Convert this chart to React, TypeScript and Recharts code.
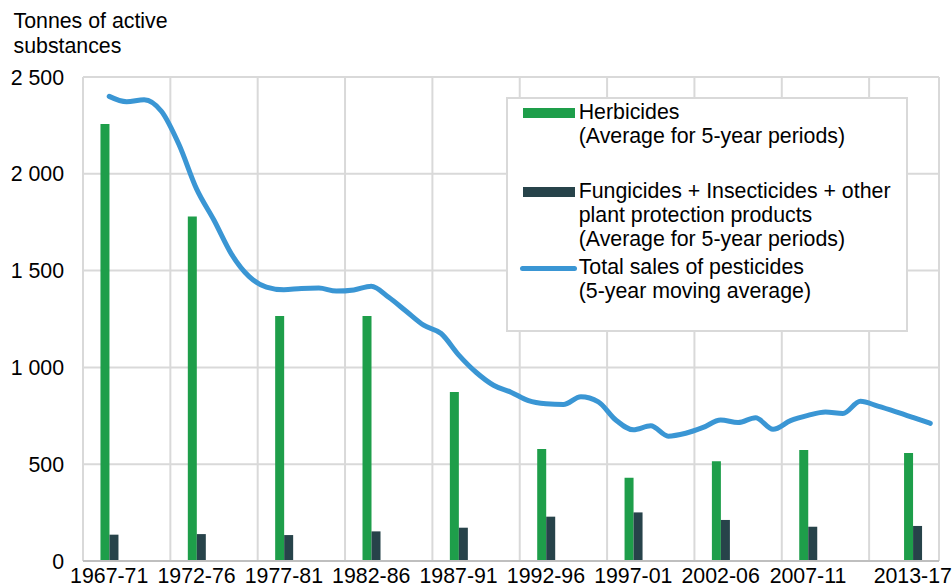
import React from 'react';
import {
  ComposedChart,
  Bar,
  Line,
  XAxis,
  YAxis,
  CartesianGrid,
  Legend,
} from 'recharts';

// Yearly categories of the x axis
const years = [
  1968, 1969, 1970, 1971, 1972, 1973, 1974, 1975, 1976, 1977,
  1978, 1979, 1980, 1981, 1982, 1983, 1984, 1985, 1986, 1987,
  1988, 1989, 1990, 1991, 1992, 1993, 1994, 1995, 1996, 1997,
  1998, 1999, 2000, 2001, 2002, 2003, 2004, 2005, 2006, 2007,
  2008, 2009, 2010, 2011, 2012, 2013, 2014, 2015, 2016,
];

// 5-year periods (bars are placed at the middle year of each period)
const periods = [
  '1967-71', '1972-76', '1977-81', '1982-86', '1987-91',
  '1992-96', '1997-01', '2002-06', '2007-11', '2013-17',
];
const periodMidYears = [1969, 1974, 1979, 1984, 1989, 1994, 1999, 2004, 2009, 2015];
const herbicides = [2257, 1780, 1265, 1265, 873, 578, 430, 515, 573, 558];
const otherProducts = [136, 139, 134, 153, 172, 229, 251, 212, 177, 181];

// Total sales, 5-year moving average
const lineYears = [
  1969, 1970, 1971, 1972, 1973, 1974, 1975, 1976, 1977, 1978,
  1979, 1980, 1981, 1982, 1983, 1984, 1985, 1986, 1987, 1988,
  1989, 1990, 1991, 1992, 1993, 1994, 1995, 1996, 1997, 1998,
  1999, 2000, 2001, 2002, 2003, 2004, 2005, 2006, 2007, 2008,
  2009, 2010, 2011, 2012, 2013, 2014, 2015, 2016,
];
const totalSales = [
  2400, 2372, 2383, 2322, 2150, 1922, 1760, 1585, 1470, 1415,
  1401, 1408, 1410, 1394, 1400, 1419, 1362, 1290, 1218, 1175,
  1065, 975, 908, 872, 828, 812, 808, 848, 822, 728,
  678, 698, 645, 660, 690, 728, 715, 740, 680, 725,
  752, 770, 762, 825, 800, 772, 742, 711,
];

const yTicks = [0, 500, 1000, 1500, 2000, 2500];
const yTickLabels = ['0', '500', '1 000', '1 500', '2 000', '2 500'];

// indices of category boundaries where vertical gridlines are drawn
const gridBoundaryIndices = [0, 5, 10, 15, 20, 25, 30, 35, 40, 45, 49];

const axisTitleLines = ['Tonnes of active', 'substances'];
const legendLabels: Record<string, string[]> = {
  herbicides: ['Herbicides', '(Average for 5-year periods)'],
  other: [
    'Fungicides + Insecticides + other',
    'plant protection products',
    '(Average for 5-year periods)',
  ],
  total: ['Total sales of pesticides', '(5-year moving average)'],
};

const GREEN = '#1e9e4a';
const DARK = '#27434a';
const BLUE = '#3a96d4';
const GRID = '#d9d9d9';
const FONT = '"Liberation Sans", Arial, Helvetica, sans-serif';
const FS = 21.33;

const data = years.map((y) => {
  const pi = periodMidYears.indexOf(y);
  const li = lineYears.indexOf(y);
  return {
    year: y,
    herbicides: pi >= 0 ? herbicides[pi] : null,
    other: pi >= 0 ? otherProducts[pi] : null,
    total: li >= 0 ? totalSales[li] : null,
  };
});

const renderLegend = (props: any) => {
  const payload: any[] = props.payload || [];
  const colorOf = (key: string, fallback: string) => {
    const p = payload.find((e) => e.dataKey === key);
    return (p && p.color) || fallback;
  };
  const textStyle: React.CSSProperties = {
    position: 'absolute',
    left: 71,
    fontSize: FS,
    lineHeight: '24px',
    color: '#000',
    whiteSpace: 'nowrap',
    fontFamily: FONT,
  };
  return (
    <div
      style={{
        position: 'relative',
        width: 402,
        height: 235,
        boxSizing: 'border-box',
        border: `2px solid ${GRID}`,
        background: '#fff',
      }}
    >
      <div style={{ position: 'absolute', left: 15, top: 9, width: 52, height: 10, background: colorOf('herbicides', GREEN) }} />
      <div style={{ ...textStyle, top: 1.2 }}>
        {legendLabels.herbicides.map((t) => (
          <div key={t}>{t}</div>
        ))}
      </div>
      <div style={{ position: 'absolute', left: 15, top: 87.5, width: 52, height: 10, background: colorOf('other', DARK) }} />
      <div style={{ ...textStyle, top: 79.5 }}>
        {legendLabels.other.map((t, i) => (
          <div key={i}>{t}</div>
        ))}
      </div>
      <div style={{ position: 'absolute', left: 12.5, top: 166.5, width: 57, height: 5, borderRadius: 3, background: colorOf('total', BLUE) }} />
      <div style={{ ...textStyle, top: 156.2 }}>
        {legendLabels.total.map((t) => (
          <div key={t}>{t}</div>
        ))}
      </div>
    </div>
  );
};

export default function App() {
  return (
    <div style={{ position: 'relative', width: 952, height: 587, fontFamily: FONT }}>
      <style>{'html, body { margin: 0; padding: 0; }'}</style>
      <div
        style={{
          position: 'absolute',
          left: 13.5,
          top: 9.3,
          fontSize: FS,
          lineHeight: '25px',
          color: '#000',
          whiteSpace: 'nowrap',
        }}
      >
        {axisTitleLines.map((t) => (
          <div key={t}>{t}</div>
        ))}
      </div>
      <ComposedChart
        width={952}
        height={587}
        data={data}
        margin={{ top: 77, right: 13, bottom: 0, left: 0 }}
        barCategoryGap={0}
        barGap={0}
        style={{ overflow: 'visible' }}
      >
        <CartesianGrid
          stroke={GRID}
          strokeWidth={2}
          verticalCoordinatesGenerator={({ offset }: any) => {
            const bw = offset.width / years.length;
            return gridBoundaryIndices.map((k) => offset.left + k * bw);
          }}
        />
        <XAxis
          dataKey="year"
          ticks={periodMidYears}
          interval={0}
          tickFormatter={(y: number) => periods[periodMidYears.indexOf(y)]}
          height={26}
          tickLine={false}
          tickSize={0}
          tickMargin={7}
          axisLine={{ stroke: '#bfbfbf', strokeWidth: 2 }}
          tick={{ fontSize: FS, fill: '#000', fontFamily: FONT }}
        />
        <YAxis
          domain={[0, 2500]}
          ticks={yTicks}
          tickFormatter={(v: number) => yTickLabels[yTicks.indexOf(v)]}
          width={83}
          axisLine={false}
          tickLine={false}
          tickSize={0}
          tickMargin={19}
          interval={0}
          tick={{ fontSize: FS, fill: '#000', fontFamily: FONT }}
        />
        <Bar dataKey="herbicides" name="Herbicides" fill={GREEN} isAnimationActive={false} />
        <Bar dataKey="other" name="Fungicides + Insecticides + other plant protection products" fill={DARK} isAnimationActive={false} />
        <Line
          dataKey="total"
          name="Total sales of pesticides"
          type="monotone"
          stroke={BLUE}
          strokeWidth={5}
          strokeLinecap="round"
          strokeLinejoin="round"
          dot={false}
          activeDot={false}
          connectNulls
          isAnimationActive={false}
        />
        <Legend
          layout="horizontal"
          verticalAlign="middle"
          align="center"
          content={renderLegend}
          wrapperStyle={{ left: 505.7, top: 97.3, width: 402, height: 235 }}
        />
      </ComposedChart>
    </div>
  );
}
